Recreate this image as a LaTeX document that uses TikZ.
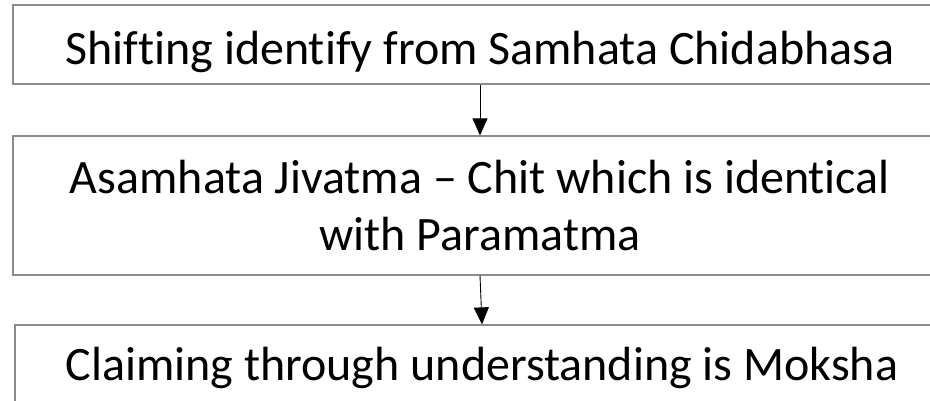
\documentclass[tikz,border=0pt]{standalone}
\usepackage{fontspec}
\setmainfont{Carlito}[Ligatures=NoCommon]
\usetikzlibrary{arrows.meta}

\tikzset{
  box/.style={draw=black!45, line width=1.2pt, rectangle, inner sep=0pt},
  txt/.style={font=\fontsize{48}{57}\selectfont, inner sep=0pt, align=center},
  freccia/.style={-{Triangle[length=17pt,width=15pt]}, line width=0.9pt, black}
}

\begin{document}
\begin{tikzpicture}[x=1pt, y=-1pt]
  \useasboundingbox (0,0) rectangle (930,401);
  \clip (0,0) rectangle (930,401);

  % riquadri
  \node[box, minimum width=934pt, minimum height=79pt] (box1) at (480,44.5) {};
  \node[box, minimum width=934pt, minimum height=139pt] (box2) at (480,205.5) {};
  \node[box, minimum width=934pt, minimum height=90pt] (box3) at (482,370) {};

  % testi
  \node[txt, anchor=base] (t1) at ([yshift=-20.5pt]box1.center) {Shifting identify from Samhata Chidabhasa};
  \node[txt] (t2) at (box2.center) {Asamhata Jivatma -- Chit which is identical\\with Paramatma};
  \node[txt, anchor=base] (t3) at (482,380) {Claiming through understanding is Moksha};

  % frecce
  \draw[freccia] (box1.south) -- (box2.north);
  \draw[freccia] (box2.south) -- (box3.north);
\end{tikzpicture}
\end{document}
